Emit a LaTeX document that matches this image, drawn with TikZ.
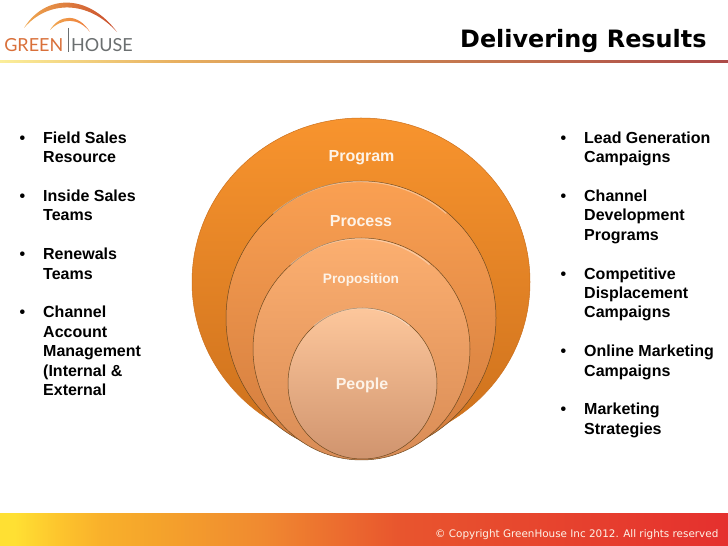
\documentclass[tikz,border=0pt]{standalone}
\usepackage{fontspec}
\setmainfont{Liberation Sans}
\newfontfamily\dejavu{DejaVu Sans}
\newfontfamily\logofont{Lato}
\usetikzlibrary{shapes.geometric}
\definecolor{fy}{HTML}{FFE033}
\definecolor{fw}{HTML}{FDC52D}
\definecolor{fz}{HTML}{F9B02B}
\definecolor{fa}{HTML}{F5A52B}
\definecolor{fb}{HTML}{F08A30}
\definecolor{fc}{HTML}{E8552E}
\definecolor{fd}{HTML}{E5302E}
\definecolor{hy}{HTML}{FBEE9A}
\definecolor{ha}{HTML}{E8B060}
\definecolor{hb}{HTML}{C98050}
\definecolor{hc}{HTML}{AD4A48}
\definecolor{labelc}{HTML}{FDF3E8}
\definecolor{rimc}{HTML}{6E4A20}
\definecolor{greenc}{HTML}{D9703A}
\definecolor{housec}{HTML}{6B6F70}
\definecolor{F1}{HTML}{F8942E}
\definecolor{Fm}{HTML}{EE8A2A}
\definecolor{F2}{HTML}{CC701C}
\definecolor{P1}{HTML}{FAA052}
\definecolor{Pm}{HTML}{F09250}
\definecolor{P2}{HTML}{D27C3E}
\definecolor{Q1}{HTML}{FCAF70}
\definecolor{Qm}{HTML}{F8A268}
\definecolor{Q2}{HTML}{D98C56}
\definecolor{R1}{HTML}{FDC79C}
\definecolor{Rm}{HTML}{FBB48C}
\definecolor{R2}{HTML}{D0946E}
\definecolor{arcl}{HTML}{F0A850}
\definecolor{arcc}{HTML}{E8703A}
\definecolor{arcr}{HTML}{C84A2A}
\definecolor{arcm}{HTML}{EE7A3A}
\pgfdeclarehorizontalshading{footbar}{100bp}{
  color(0bp)=(fy); color(26bp)=(fy); color(29bp)=(fw); color(32bp)=(fz); color(35.3bp)=(fa); color(42.9bp)=(fb); color(52.5bp)=(fc); color(75bp)=(fd); color(100bp)=(fd)}
\pgfdeclarehorizontalshading{headbar}{100bp}{
  color(0bp)=(hy); color(25bp)=(hy); color(37bp)=(ha); color(52.5bp)=(hb); color(75bp)=(hc); color(100bp)=(hc)}
\tikzset{
  disc/.style={ellipse,inner sep=0pt,draw=rimc,line width=.5pt},
  disclabel/.style={text=labelc,font=\bfseries\fontsize{16}{18}\selectfont},
  bevel/.style={line width=1.2pt,white,opacity=.35},
  bullets/.style={anchor=north west,inner sep=0pt,align=left,font=\bfseries\fontsize{16}{19.4}\selectfont},
}
\newcommand{\bul}{\makebox[0pt][r]{•\hspace{18pt}}}
\begin{document}
\begin{tikzpicture}[x=1pt,y=1pt]
\useasboundingbox (0,0) rectangle (728,546);
\fill[white] (0,0) rectangle (728,546);
% header rule and footer bar
\shade[shading=headbar] (0,483) rectangle (728,485.2);
\shade[shading=footbar] (0,0) rectangle (728,32);
\node[anchor=base west,inner sep=0pt,text=labelc,font=\dejavu\fontsize{10.4}{13}\selectfont] (copy) at (435,9) {© Copyright GreenHouse Inc 2012. All rights reserved};
% logo
\shade[left color=arcl,middle color=arcc,right color=arcr]
  (24,518) .. controls (45,552) and (88,553) .. (117,514)
  .. controls (88,546) and (48,546) .. (24,518) -- cycle;
\shade[left color=arcl,right color=arcm]
  (50,516) .. controls (60,532) and (78,533) .. (90,514)
  .. controls (78,529) and (62,528) .. (50,516) -- cycle;
\draw[housec,line width=.7pt] (68.5,518) -- (68.5,494);
\node[anchor=base east,inner sep=0pt,text=greenc,font=\logofont\fontsize{18}{20}\selectfont] (green) at (63.5,494) {GREEN};
\node[anchor=base west,inner sep=0pt,text=housec,font=\logofont\fontsize{18}{20}\selectfont] (house) at (71,494) {HOUSE};
% title
\node[anchor=base west,inner sep=0pt,font=\dejavu\bfseries\fontsize{23.9}{26}\selectfont] (title) at (460,498) {Delivering Results};
% lists
\node[bullets] (left) at (43,414.5) {\bul Field Sales\\Resource\\[19.4pt]\bul Inside Sales\\Teams\\[19.4pt]\bul Renewals\\Teams\\[19.4pt]\bul Channel\\Account\\Management\\(Internal \&\\External};
\node[bullets] (right) at (584,414.5) {\bul Lead Generation\\Campaigns\\[19.4pt]\bul Channel\\Development\\Programs\\[19.4pt]\bul Competitive\\Displacement\\Campaigns\\[19.4pt]\bul Online Marketing\\Campaigns\\[19.4pt]\bul Marketing\\Strategies};
% discs
\node[disc,minimum width=338pt,minimum height=328pt,top color=F1,middle color=Fm,bottom color=F2,draw=F2] (program) at (361,264) {};
\node[disc,minimum width=270pt,minimum height=274pt,top color=P1,middle color=Pm,bottom color=P2] (process) at (361,228) {};
\node[disc,minimum width=217pt,minimum height=222pt,top color=Q1,middle color=Qm,bottom color=Q2] (proposition) at (361.5,197) {};
\node[disc,minimum width=149pt,minimum height=151pt,top color=R1,middle color=Rm,bottom color=R2] (people) at (362.5,162.5) {};
\draw[bevel] (process.130) arc[start angle=130,end angle=50,x radius=134.5pt,y radius=136.5pt];
\draw[bevel] (proposition.130) arc[start angle=130,end angle=50,x radius=108pt,y radius=110.5pt];
\draw[bevel] (people.130) arc[start angle=130,end angle=50,x radius=74pt,y radius=75pt];
\node[disclabel] (l1) at (361.5,388.5) {Program};
\node[disclabel] (l2) at (361,325) {Process};
\node[disclabel,font=\bfseries\fontsize{13.7}{15}\selectfont] (l3) at (361,266) {Proposition};
\node[disclabel] (l4) at (362,160.5) {People};
\end{tikzpicture}
\end{document}
